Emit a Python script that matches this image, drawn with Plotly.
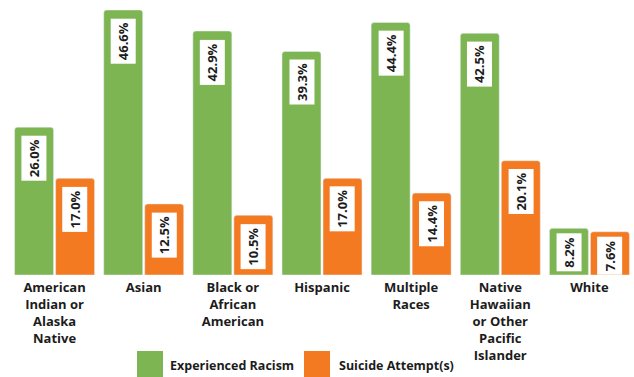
import plotly.graph_objects as go

# Survey groups and the share of each reporting racism / a suicide attempt
groups = [
    "American<br>Indian or<br>Alaska<br>Native",
    "Asian",
    "Black or<br>African<br>American",
    "Hispanic",
    "Multiple<br>Races",
    "Native<br>Hawaiian<br>or Other<br>Pacific<br>Islander",
    "White",
]
experienced_racism = [26.0, 46.6, 42.9, 39.3, 44.4, 42.5, 8.2]
suicide_attempts = [17.0, 12.5, 10.5, 17.0, 14.4, 20.1, 7.6]

GREEN = "#7db553"
ORANGE = "#f47a22"
TEXT = "#1c1c1c"
FONT = "Open Sans"

fig = go.Figure()
fig.add_trace(go.Bar(x=groups, y=experienced_racism, name="Experienced Racism",
                     marker=dict(color=GREEN, cornerradius=3), showlegend=False))
fig.add_trace(go.Bar(x=groups, y=suicide_attempts, name="Suicide Attempt(s)",
                     marker=dict(color=ORANGE, cornerradius=3), showlegend=False))

# Value labels: rotated white tags just inside the top of each bar
annotations = []
for series, shift in ((experienced_racism, -20.5), (suicide_attempts, 20.5)):
    for g, v in zip(groups, series):
        annotations.append(dict(
            x=g, y=v, xref="x", yref="y", xshift=shift, yshift=-8 if v > 10 else -4,
            text=f"{v:.1f}%", textangle=-90, showarrow=False,
            xanchor="center", yanchor="top",
            bgcolor="white", borderpad=3,
            font=dict(family=FONT, size=13, color=TEXT, weight=700),
        ))

# Legend drawn as large swatches below the categories
shapes = []
legend_items = [("Experienced Racism", GREEN, 137, 168), ("Suicide Attempt(s)", ORANGE, 304, 337)]
W, H, L, T, PH = 634, 377, 10, 10, 265
def px(xp):
    return (xp - L) / (W - L)
def py(yp):
    return (T + PH - yp) / PH
for label, color, x0, tx in legend_items:
    shapes.append(dict(type="rect", xref="paper", yref="paper",
                       x0=px(x0), x1=px(x0 + 26), y0=py(377), y1=py(351),
                       fillcolor=color, line=dict(width=0)))
    annotations.append(dict(x=px(tx), y=py(365), xref="paper", yref="paper",
                            text=label, showarrow=False, xanchor="left", yanchor="middle",
                            font=dict(family=FONT, size=12.5, color=TEXT, weight=700)))

fig.update_layout(
    width=W, height=H,
    margin=dict(l=L, r=0, t=T, b=H - T - PH),
    barmode="group", bargap=0.08, bargroupgap=0.05,
    plot_bgcolor="white", paper_bgcolor="white",
    annotations=annotations, shapes=shapes,
    xaxis=dict(showgrid=False, showline=False, zeroline=False, ticks="",
               ticklabelstandoff=3,
               tickfont=dict(family=FONT, size=13, color=TEXT, weight=700)),
    yaxis=dict(visible=False, range=[0, 46.6], showgrid=False, zeroline=False),
)

fig.write_html("out.html")
